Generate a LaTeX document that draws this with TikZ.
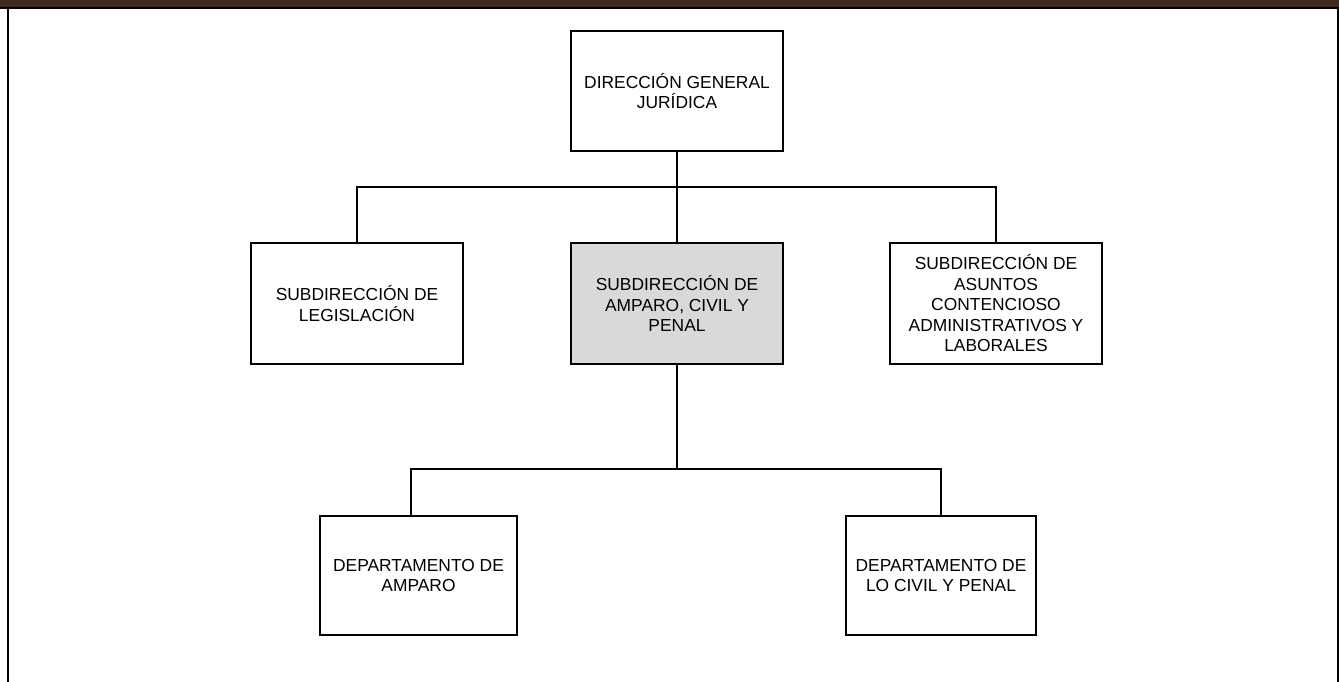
\documentclass[tikz,border=0pt]{standalone}
\usepackage{fontspec}
\setmainfont{Liberation Sans}
\definecolor{barbrown}{RGB}{64,40,32}
\definecolor{boxgrey}{RGB}{217,217,217}
\begin{document}
\begin{tikzpicture}[x=1pt,y=-1pt,
  unit/.style={draw=black, line width=1.3pt, fill=white, align=center,
    font=\fontsize{17.4}{20.5}\selectfont, inner sep=0pt},
  topunit/.style={unit, minimum width=212pt, minimum height=120pt},
  subunit/.style={unit, minimum width=212pt, minimum height=121pt},
  deptunit/.style={unit, minimum height=119pt},
  link/.style={draw=black, line width=1.2pt}]
\useasboundingbox (0,0) rectangle (1339,682);
% page frame: header band and side rules
\fill[barbrown] (0,0) rectangle (1339,7);
\fill[black] (0,7) rectangle (1339,8.7);
\fill[black] (6.8,7) rectangle (8.8,682);
\fill[black] (1337.2,7) rectangle (1339,682);
% organisation units
\node[topunit] (dg) at (677,91) {DIRECCIÓN GENERAL\\JURÍDICA};
\node[subunit] (leg) at (357,303.5) {SUBDIRECCIÓN DE\\LEGISLACIÓN};
\node[subunit, fill=boxgrey] (amp) at (677,303.5) {SUBDIRECCIÓN DE\\AMPARO, CIVIL Y\\PENAL};
\node[subunit] (cont) at (996,303.5) {SUBDIRECCIÓN DE\\ASUNTOS\\CONTENCIOSO\\ADMINISTRATIVOS Y\\LABORALES};
\node[deptunit, minimum width=197pt] (dam) at (418.5,575.5) {DEPARTAMENTO DE\\AMPARO};
\node[deptunit, minimum width=190pt] (dcp) at (941,575.5) {DEPARTAMENTO DE\\LO CIVIL Y PENAL};
% reporting lines
\coordinate (j1) at (677,187);
\coordinate (j2) at (677,469);
\draw[link] (dg.south) -- (j1);
\draw[link] (j1) -| (leg.north);
\draw[link] (j1) -| (cont.north);
\draw[link] (j1) -- (amp.north);
\draw[link] (amp.south) -- (j2);
\draw[link] (j2) -| ([xshift=-7.5pt]dam.north);
\draw[link] (j2) -| (dcp.north);
\end{tikzpicture}
\end{document}
